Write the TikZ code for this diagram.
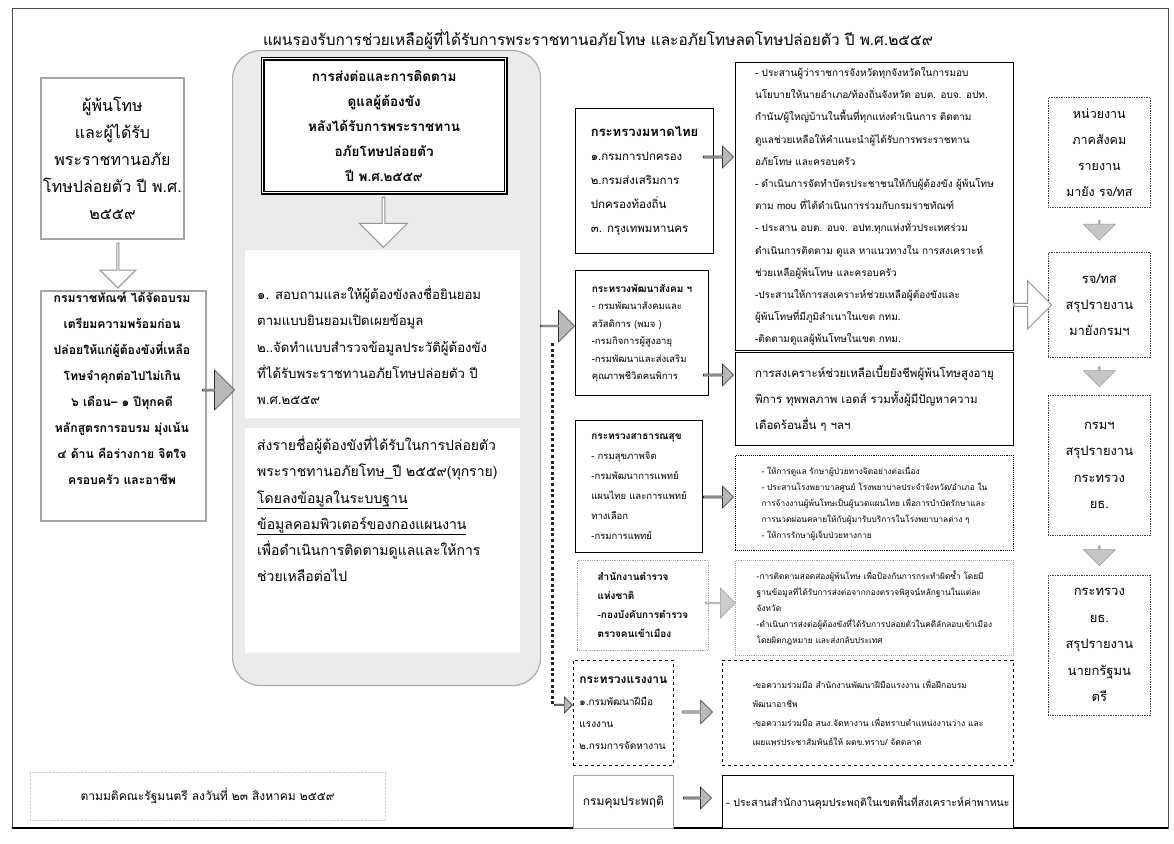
\documentclass[tikz,border=0pt]{standalone}
\usepackage{fontspec}
\setmainfont[Script=Thai]{Loma}
\usetikzlibrary{shapes.arrows,calc}
\newcommand\fsz[2]{\fontsize{#1}{#2}\selectfont}
\tikzset{
  lbox/.style={draw=gray!70, line width=2pt, fill=white, align=center, inner sep=2pt, anchor=north west},
  mbox/.style={draw=black, line width=1.1pt, fill=white, align=left, inner sep=3pt, anchor=north west},
  tbox/.style={draw=black, line width=0.9pt, fill=white, align=left, inner sep=3pt, anchor=north west},
  rbox/.style={draw=black!75, densely dotted, line width=0.7pt, fill=white, align=center, anchor=north west, minimum width=102, inner sep=2pt},
  txt/.style={align=left, anchor=north west, inner sep=0pt},
  garrow/.style={single arrow, fill=gray!55, draw=black!80, line width=0.6pt, inner sep=0pt, single arrow head extend=3pt},
  warrow/.style={single arrow, fill=white, draw=gray!85, line width=1pt, inner sep=0pt, single arrow head extend=8pt},
  dotline/.style={line width=3pt, dash pattern=on 3pt off 2.6pt, black!85},
}
\begin{document}
\begin{tikzpicture}[x=1pt,y=-1pt]
\useasboundingbox (0,0) rectangle (1174,843);
\fill[white] (0,0) rectangle (1174,843);
% outer frame
\draw[line width=0.8pt, black!70] (12,8) rectangle (1168,828);
\draw[line width=2pt] (12,828) -- (1168,828);

\node[font=\fsz{15.4}{18}] (title) at (598,40) {แผนรองรับการช่วยเหลือผู้ที่ได้รับการพระราชทานอภัยโทษ และอภัยโทษลดโทษปล่อยตัว ปี พ.ศ.๒๕๕๙};

% left column
\node[lbox, font=\fsz{16}{27}, minimum width=143, minimum height=161] (lb1) at (40,77) {ผู้พ้นโทษ\\ และผู้ได้รับ\\ พระราชทานอภัย\\ โทษปล่อยตัว ปี พ.ศ.\\ ๒๕๕๙};
\node[lbox, line width=1.5pt, minimum width=165, minimum height=230] (lb2) at (40,290) {};
\node[txt, anchor=north, align=center, font=\fsz{12.2}{26}\bfseries] (lb2t) at (122,292) {กรมราชทัณฑ์ ได้จัดอบรม\\ เตรียมความพร้อมก่อน\\ ปล่อยให้แก่ผู้ต้องขังที่เหลือ\\ โทษจำคุกต่อไปไม่เกิน\\ ๖ เดือน– ๑ ปีทุกคดี\\ หลักสูตรการอบรม มุ่งเน้น\\ ๔ ด้าน คือร่างกาย จิตใจ\\ ครอบครัว และอาชีพ};
\node[warrow, shape border rotate=270, minimum height=45, minimum width=36] (a1) at ($(lb1.south)!0.5!(lb2.north)$) {};

% middle panel
\node[draw=gray!65, line width=1.2pt, fill=gray!16, rounded corners=28pt, anchor=north west, minimum width=308, minimum height=635] (panel) at (232,50) {};
\node[garrow, minimum height=32, minimum width=40, single arrow head extend=6pt] (a2) at (218,390) {};
\node[draw=black, line width=1.3pt, double=white, double distance=1.6pt, fill=white, align=center, anchor=north west, minimum width=243, minimum height=134, font=\fsz{13.5}{25}\bfseries] (mt) at (262,58) {การส่งต่อและการติดตาม\\ ดูแลผู้ต้องขัง\\ หลังได้รับการพระราชทาน\\ อภัยโทษปล่อยตัว\\ ปี พ.ศ.๒๕๕๙};
\node[fill=white, anchor=north west, minimum width=275, minimum height=168] (m1) at (245,250) {};
\node[txt, font=\fsz{13.2}{26.2}] (m1t) at (257,286) {๑. สอบถามและให้ผู้ต้องขังลงชื่อยินยอม\\ ตามแบบยินยอมเปิดเผยข้อมูล\\ ๒..จัดทำแบบสำรวจข้อมูลประวัติผู้ต้องขัง\\ ที่ได้รับพระราชทานอภัยโทษปล่อยตัว ปี\\ พ.ศ.๒๕๕๙};
\node[warrow, shape border rotate=270, minimum height=50, minimum width=48] (a3) at ($(mt.south)!0.5!(m1.north)$) {};
\node[fill=white, anchor=north west, minimum width=275, minimum height=225] (m2) at (245,428) {};
\node[txt, font=\fsz{14}{26.2}] (m2t) at (257,436) {ส่งรายชื่อผู้ต้องขังที่ได้รับในการปล่อยตัว\\ พระราชทานอภัยโทษ\_ปี ๒๕๕๙(ทุกราย)\\ \underline{โดยลงข้อมูลในระบบฐาน}\\ \underline{ข้อมูลคอมพิวเตอร์ของกองแผนงาน}\\ เพื่อดำเนินการติดตามดูแลและให้การ\\ ช่วยเหลือต่อไป};
\node[garrow, minimum height=34, minimum width=32, single arrow head extend=5pt] (a4) at (557,326) {};

% ministry boxes
\node[mbox, font=\fsz{11.5}{24}, minimum width=138, minimum height=145] (mb1) at (575,108) {{\fsz{13}{24}\bfseries กระทรวงมหาดไทย}\\ ๑.กรมการปกครอง\\ ๒.กรมส่งเสริมการ\\ ปกครองท้องถิ่น\\ ๓. กรุงเทพมหานคร};
\node[mbox, font=\fsz{9.5}{17.5}, minimum width=133, minimum height=125] (mb2) at (575,270) {{\fsz{10}{17.5}\bfseries กระทรวงพัฒนาสังคม ฯ}\\ - กรมพัฒนาสังคมและ\\ สวัสดิการ (พมจ )\\ -กรมกิจการผู้สูงอายุ\\ -กรมพัฒนาและส่งเสริม\\ คุณภาพชีวิตคนพิการ};
\node[mbox, font=\fsz{9.5}{20}, minimum width=127, minimum height=132] (mb3) at (575,420) {{\fsz{10}{20}\bfseries กระทรวงสาธารณสุข}\\ - กรมสุขภาพจิต\\ -กรมพัฒนาการแพทย์\\ แผนไทย และการแพทย์\\ ทางเลือก\\ -กรมการแพทย์};
\node[mbox, draw=gray!70, line width=0.8pt, densely dotted, font=\fsz{10}{19}\bfseries, minimum width=131, minimum height=90] (mb4) at (577,560) {สำนักงานตำรวจ\\ แห่งชาติ\\ -กองบังคับการตำรวจ\\ ตรวจคนเข้าเมือง};
\node[mbox, line width=0.9pt, dashed, font=\fsz{10}{22}, minimum width=100, minimum height=105] (mb5) at (573,660) {{\fsz{12}{22}\bfseries กระทรวงแรงงาน}\\ ๑.กรมพัฒนาฝีมือ\\ แรงงาน\\ ๒.กรมการจัดหางาน};
\node[mbox, draw=gray!75, line width=0.9pt, font=\fsz{12}{14}, minimum width=100, minimum height=53] (mb6) at (573,775) {กรมคุมประพฤติ};

% dotted connector from panel to labour ministry
\coordinate (dtop) at (552,343);
\node[garrow, minimum height=18, minimum width=16, single arrow head extend=3pt] (a5) at ($(dtop |- mb5.west)+(11,-8)$) {};
\draw[dotline] (dtop) -- (dtop |- a5.west);

% text boxes
\node[tbox, font=\fsz{10}{22.2}, minimum width=278, minimum height=288] (t1) at (735,62) {- ประสานผู้ว่าราชการจังหวัดทุกจังหวัดในการมอบ\\ นโยบายให้นายอำเภอ/ท้องถิ่นจังหวัด อบต. อบจ. อปท.\\ กำนัน/ผู้ใหญ่บ้านในพื้นที่ทุกแห่งดำเนินการ ติดตาม\\ ดูแลช่วยเหลือให้คำแนะนำผู้ได้รับการพระราชทาน\\ อภัยโทษ และครอบครัว\\ - ดำเนินการจัดทำบัตรประชาชนให้กับผู้ต้องขัง ผู้พ้นโทษ\\ ตาม mou ที่ได้ดำเนินการร่วมกับกรมราชทัณฑ์\\ - ประสาน อบต. อบจ. อปท.ทุกแห่งทั่วประเทศร่วม\\ ดำเนินการติดตาม ดูแล หาแนวทางใน การสงเคราะห์\\ ช่วยเหลือผู้พ้นโทษ และครอบครัว\\ -ประสานให้การสงเคราะห์ช่วยเหลือผู้ต้องขังและ\\ ผู้พ้นโทษที่มีภูมิลำเนาในเขต กทม.\\ -ติดตามดูแลผู้พ้นโทษในเขต กทม.};
\node[tbox, font=\fsz{11.5}{26}, minimum width=278, minimum height=93] (t2) at (735,352) {การสงเคราะห์ช่วยเหลือเบี้ยยังชีพผู้พ้นโทษสูงอายุ\\ พิการ ทุพพลภาพ เอดส์ รวมทั้งผู้มีปัญหาความ\\ เดือดร้อนอื่น ๆ ฯลฯ};
\node[tbox, densely dotted, font=\fsz{8.3}{16}, minimum width=278, minimum height=95] (t3) at (735,455) {- ให้การดูแล รักษาผู้ป่วยทางจิตอย่างต่อเนื่อง\\ - ประสานโรงพยาบาลศูนย์ โรงพยาบาลประจำจังหวัด/อำเภอ ใน\\ การจ้างงานผู้พ้นโทษเป็นผู้นวดแผนไทย เพื่อการบำบัดรักษาและ\\ การนวดผ่อนคลายให้กับผู้มารับบริการในโรงพยาบาลต่าง ๆ\\ - ให้การรักษาผู้เจ็บป่วยทางกาย};
\node[tbox, draw=gray!70, densely dotted, font=\fsz{8.3}{16}, minimum width=278, minimum height=95] (t4) at (735,560) {-การติดตามสอดส่องผู้พ้นโทษ เพื่อป้องกันการกระทำผิดซ้ำ โดยมี\\ ฐานข้อมูลที่ได้รับการส่งต่อจากกองตรวจพิสูจน์หลักฐานในแต่ละ\\ จังหวัด\\ -ดำเนินการส่งต่อผู้ต้องขังที่ได้รับการปล่อยตัวในคดีลักลอบเข้าเมือง\\ โดยผิดกฎหมาย และส่งกลับประเทศ};
\node[tbox, dashed, font=\fsz{8.5}{19}, minimum width=291, minimum height=105] (t5) at (722,660) {-ขอความร่วมมือ สำนักงานพัฒนาฝีมือแรงงาน เพื่อฝึกอบรม\\ พัฒนาอาชีพ\\ -ขอความร่วมมือ สนง.จัดหางาน เพื่อทราบตำแหน่งงานว่าง และ\\ เผยแพร่ประชาสัมพันธ์ให้ ผตข.ทราบ/ จัดตลาด};
\node[tbox, font=\fsz{10.5}{14}, minimum width=291, minimum height=53] (t6) at (722,775) {- ประสานสำนักงานคุมประพฤติในเขตพื้นที่สงเคราะห์ค่าพาหนะ};

% arrows ministry -> text
\node[garrow, minimum height=30, minimum width=22] (b1) at (718,157) {};
\node[garrow, minimum height=30, minimum width=22] (b2) at (718,375) {};
\node[garrow, minimum height=30, minimum width=22] (b3) at (718,497) {};
\node[garrow, fill=gray!40, draw=gray!80, minimum height=30, minimum width=30, single arrow head extend=5pt] (b4) at (720,603) {};
\node[garrow, minimum height=30, minimum width=24] (b5) at (697,712) {};
\node[garrow, minimum height=28, minimum width=22] (b6) at (697,798) {};

% right column
\node[rbox, font=\fsz{12.5}{26}, minimum height=110] (r1) at (1048,97) {หน่วยงาน\\ ภาคสังคม\\ รายงาน\\ มายัง รจ/ทส};
\node[rbox, font=\fsz{13}{26}, minimum height=105] (r2) at (1048,252) {รจ/ทส\\ สรุปรายงาน\\ มายังกรมฯ};
\node[rbox, font=\fsz{13}{26.5}, minimum height=140] (r3) at (1048,395) {กรมฯ\\ สรุปรายงาน\\ กระทรวง\\ ยธ.};
\node[rbox, font=\fsz{13}{26.5}, minimum height=140] (r4) at (1048,575) {กระทรวง\\ ยธ.\\ สรุปรายงาน\\ นายกรัฐมน\\ ตรี};
\node[garrow, fill=gray!45, draw=gray!80, shape border rotate=270, minimum height=20, minimum width=32, single arrow head extend=7pt] (c1) at ($(r1.south)!0.5!(r2.north)$) {};
\node[garrow, fill=gray!45, draw=gray!80, shape border rotate=270, minimum height=20, minimum width=32, single arrow head extend=7pt] (c2) at ($(r2.south)!0.5!(r3.north)$) {};
\node[garrow, fill=gray!45, draw=gray!80, shape border rotate=270, minimum height=20, minimum width=32, single arrow head extend=7pt] (c3) at ($(r3.south)!0.5!(r4.north)$) {};
\node[warrow, minimum height=38, minimum width=48, single arrow head extend=8pt] (w1) at ($(t1.east |- r2.west)+(18,0)$) {};

% footnote
\node[draw=gray!35, densely dotted, anchor=north west, minimum width=355, minimum height=48, font=\fsz{12}{14}] (fn) at (30,772) {ตามมติคณะรัฐมนตรี ลงวันที่ ๒๓ สิงหาคม ๒๕๕๙};
\end{tikzpicture}
\end{document}
